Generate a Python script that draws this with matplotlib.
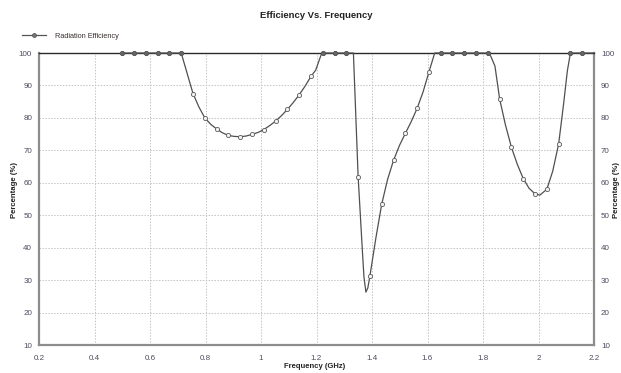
import matplotlib
matplotlib.use("Agg")
import matplotlib.pyplot as plt
from matplotlib.lines import Line2D

# ---- data ----
marker_freq = [0.5, 0.5425, 0.585, 0.6275, 0.67, 0.7125, 0.755, 0.7975, 0.84, 0.8825,
               0.925, 0.9675, 1.01, 1.0525, 1.095, 1.1375, 1.18, 1.2225, 1.265, 1.3075,
               1.35, 1.3925, 1.435, 1.4775, 1.52, 1.5625, 1.605, 1.6475, 1.69, 1.7325,
               1.775, 1.8175, 1.86, 1.9025, 1.945, 1.9875, 2.03, 2.0725, 2.115, 2.1575]
marker_eff = [100, 100, 100, 100, 100, 100, 87.5, 80.0, 76.6, 74.6,
              74.2, 74.9, 76.4, 79.0, 82.6, 87.1, 92.8, 100, 100, 100,
              61.9, 31.3, 53.4, 66.9, 75.2, 82.9, 94.1, 100, 100, 100,
              100, 100, 85.8, 70.9, 61.3, 56.5, 58.0, 71.9, 100, 100]

line_freq = [0.5, 0.7125, 0.755, 0.776, 0.7975, 0.819, 0.84, 0.861, 0.8825, 0.903,
             0.925, 0.946, 0.9675, 0.989, 1.01, 1.031, 1.0525, 1.074, 1.095, 1.116,
             1.1375, 1.159, 1.18, 1.197, 1.219, 1.3075, 1.333, 1.35, 1.358, 1.365,
             1.371, 1.378, 1.385, 1.3925, 1.414, 1.435, 1.456, 1.4775, 1.499, 1.52,
             1.541, 1.5625, 1.584, 1.605, 1.626, 1.8175, 1.828, 1.843, 1.86, 1.881,
             1.9025, 1.924, 1.945, 1.966, 1.9875, 2.005, 2.03, 2.051, 2.0725, 2.09,
             2.104, 2.115, 2.2]
line_eff = [100, 100, 87.5, 83.4, 80.0, 78.0, 76.6, 75.4, 74.6, 74.3,
            74.2, 74.4, 74.9, 75.5, 76.4, 77.6, 79.0, 80.7, 82.6, 84.7,
            87.1, 89.8, 92.8, 94.7, 100, 100, 100, 61.9, 50.0, 39.5,
            31.0, 26.3, 27.6, 31.3, 43.0, 53.4, 61.0, 66.9, 71.5, 75.2,
            78.8, 82.9, 88.0, 94.1, 100, 100, 99.0, 96.0, 85.8, 77.8,
            70.9, 65.6, 61.3, 58.3, 56.6, 56.2, 58.0, 63.5, 71.9, 84.0,
            94.5, 100, 100]

x_ticks = [0.2, 0.4, 0.6, 0.8, 1, 1.2, 1.4, 1.6, 1.8, 2, 2.2]
x_tick_labels = ["0.2", "0.4", "0.6", "0.8", "1", "1.2", "1.4", "1.6", "1.8", "2", "2.2"]
y_ticks = [10, 20, 30, 40, 50, 60, 70, 80, 90, 100]

plt.rcParams['font.family'] = ['Liberation Sans', 'DejaVu Sans']

W, H = 621, 373
fig = plt.figure(figsize=(W / 100, H / 100), dpi=100)
ax = fig.add_axes([39 / W, 1 - 345 / H, (594 - 39) / W, (345 - 53) / H])

line_col = '#505050'
ax.plot(line_freq, line_eff, color=line_col, lw=0.9, zorder=3, clip_on=False)
ax.plot(marker_freq, marker_eff, ls='none', marker='o', ms=3.0, mfc='#f4f4f4',
        mec='#5a5a5a', mew=0.6, zorder=4, clip_on=False)
# markers on flat top: line runs through them
ax.plot([f for f, v in zip(marker_freq, marker_eff) if v >= 100],
        [v for v in marker_eff if v >= 100], ls='none', marker='o', ms=2.8,
        mfc='#666666', mec='#555555', mew=0.6, zorder=5, clip_on=False)

ax.set_xlim(0.2, 2.2)
ax.set_ylim(10, 100)
ax.set_xticks(x_ticks)
ax.set_xticklabels(x_tick_labels)
ax.set_yticks(y_ticks)

grid_kw = dict(color='#c4c4c4', lw=0.7, ls=(0, (1.5, 1.5)))
ax.grid(True, **grid_kw)
ax.set_axisbelow(True)

tick_col = '#4f4a5e'
ax.tick_params(axis='both', length=0, labelsize=5.8, colors=tick_col)
ax.tick_params(axis='x', pad=7)
ax.tick_params(axis='y', pad=5, labelright=True, right=False)

for s in ['left', 'bottom', 'right']:
    ax.spines[s].set_color('#8c8c8c')
    ax.spines[s].set_linewidth(1.6)
ax.spines['top'].set_color('#2a2a2a')
ax.spines['top'].set_linewidth(1.0)

fig.text(316 / W, 1 - 16 / H, "Efficiency Vs. Frequency", ha='center', va='center',
         fontsize=6.8, fontweight='bold', color='#222222')
fig.text(315 / W, 1 - 366 / H, "Frequency (GHz)", ha='center', va='center',
         fontsize=5.5, fontweight='bold', color='#222222')
fig.text(14 / W, 1 - 190 / H, "Percentage (%)", ha='center', va='center', rotation=90,
         fontsize=5.6, fontweight='bold', color='#222222')
fig.text(616 / W, 1 - 190 / H, "Percentage (%)", ha='center', va='center', rotation=90,
         fontsize=5.6, fontweight='bold', color='#222222')

# legend
handle = Line2D([], [], color='#555555', lw=0.9, marker='o', ms=2.8, mfc='#777777',
                mec='#555555', mew=0.6)
fig.legend([handle], ["Radiation Efficiency"], loc='center left',
           bbox_to_anchor=(22 / W, 1 - 36 / H), frameon=False, fontsize=5.3,
           handlelength=3.2, handletextpad=1.3, borderpad=0, borderaxespad=0,
           labelcolor='#3a3030')

fig.savefig("out.png", dpi=100)
